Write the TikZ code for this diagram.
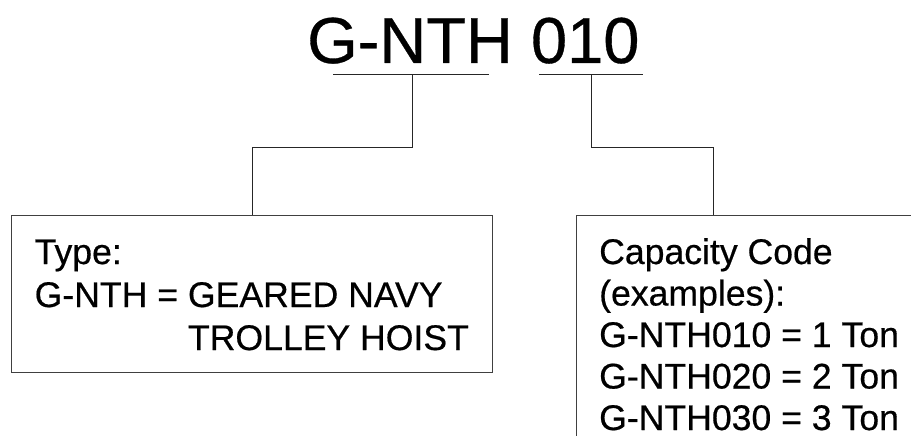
\documentclass[tikz,border=0pt]{standalone}
\usepackage{fontspec}
\setmainfont{Liberation Sans}[FakeBold=0.5]
\begin{document}
\begin{tikzpicture}[x=1pt,y=-1pt,
  conn/.style={draw=black!85,line width=1pt},
  boxframe/.style={draw=black!75,line width=1.3pt,rectangle,inner sep=0pt,anchor=north west},
  titletext/.style={font=\fontsize{65}{70}\selectfont,inner sep=0pt,anchor=base west},
  bodytext/.style={font=\fontsize{35.6}{42}\selectfont,inner sep=0pt,anchor=base west}]
\useasboundingbox (0,0) rectangle (911,436);
\clip (0,0) rectangle (911,436);
% title
\node[titletext] (title) at (307,63) {G-NTH 010};
% underlines
\coordinate (ulAl) at (333,75);
\coordinate (ulAr) at (489,75);
\coordinate (ulAm) at (412,75);
\coordinate (ulBl) at (539,75);
\coordinate (ulBr) at (643,75);
\coordinate (ulBm) at (591,75);
\draw[conn] (ulAl) -- (ulAr);
\draw[conn] (ulBl) -- (ulBr);
% boxes
\node[boxframe,minimum width=481pt,minimum height=157pt] (typebox) at (11,215) {};
\node[boxframe,minimum width=400pt,minimum height=300pt] (capbox) at (576,215) {};
\coordinate (capjoin) at (713,215);
% connectors
\draw[conn] (ulAm) -- (ulAm |- 0,147) -| (typebox.north);
\draw[conn] (ulBm) -- (ulBm |- 0,147) -| (capjoin);
% type text
\node[bodytext] (t1) at (34.5,264) {Type:};
\node[bodytext] (t2) at (34.5,307) {G-NTH = GEARED NAVY};
\node[bodytext] (t3) at (34.5,350) {\phantom{G-NTH = }TROLLEY HOIST};
% capacity text
\node[bodytext] (c1) at (599,264) {Capacity Code};
\node[bodytext] (c2) at (599,305.5) {(examples):};
\node[bodytext] (c3) at (599,347) {G-NTH010 = 1 Ton};
\node[bodytext] (c4) at (599,388.5) {G-NTH020 = 2 Ton};
\node[bodytext] (c5) at (599,430) {G-NTH030 = 3 Ton};
\end{tikzpicture}
\end{document}
